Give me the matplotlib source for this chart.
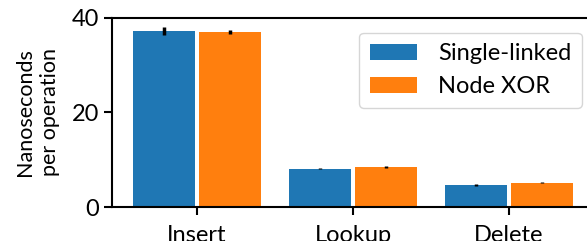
import matplotlib.pyplot as plt
import numpy as np

plt.rcParams['font.family'] = ['Lato', 'DejaVu Sans']
plt.rcParams['font.size'] = 17

# data
categories = ['Insert', 'Lookup', 'Delete']
single_linked = [37.25, 8.05, 4.7]
single_err = [0.95, 0.1, 0.2]
node_xor = [37.0, 8.5, 5.15]
node_err = [0.4, 0.2, 0.1]

fig = plt.figure(figsize=(5.87, 2.41), dpi=100)
# axes runs past the right edge and the labels past the bottom, like a cropped export
ax = fig.add_axes([112 / 587, (241 - 207) / 241, (594 - 112) / 587, 189 / 241])

x = np.arange(len(categories))
w = 0.4
ax.bar(x - 0.21, single_linked, w, yerr=single_err, color='#1f77b4',
       label='Single-linked', error_kw=dict(elinewidth=2.5, capsize=0))
ax.bar(x + 0.21, node_xor, w, yerr=node_err, color='#ff7f0e',
       label='Node XOR', error_kw=dict(elinewidth=2.5, capsize=0))

ax.set_xlim(-0.545, 2.545)
ax.set_ylim(0, 40)
ax.set_yticks([0, 20, 40])
ax.set_xticks(x)
ax.set_xticklabels(categories)
ax.set_ylabel('Nanoseconds\nper operation', fontsize=15.5, linespacing=1.3)
ax.yaxis.set_label_coords(-0.108, 0.5)

for s in ax.spines.values():
    s.set_linewidth(1.5)
ax.tick_params(width=1.5, length=6)
ax.tick_params(axis='x', pad=7)

ax.legend(loc='upper right', bbox_to_anchor=(1.0, 0.985), fontsize=17,
          handlelength=2.0, handletextpad=0.9, borderpad=0.45,
          labelspacing=0.5)

fig.savefig('out.png', dpi=100)
